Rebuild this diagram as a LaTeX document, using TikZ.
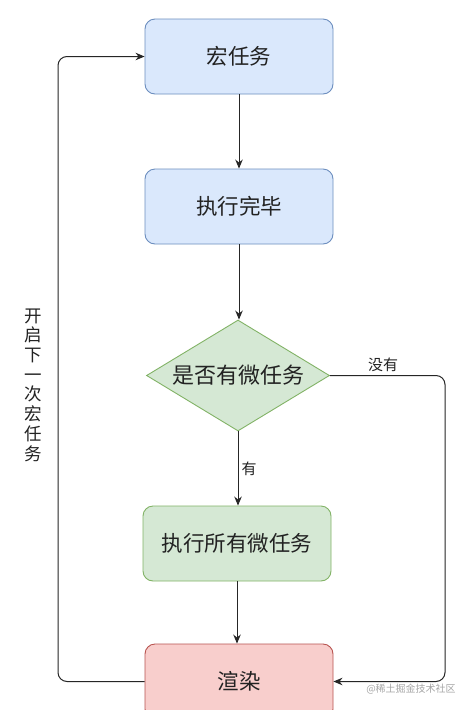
\documentclass[tikz,border=0pt]{standalone}
\usepackage{fontspec}
\newfontfamily\cjk{Noto Sans CJK SC}
\usetikzlibrary{shapes.geometric,arrows.meta,calc}
\definecolor{bluefill}{HTML}{DAE8FC}
\definecolor{bluedraw}{HTML}{6C8EBF}
\definecolor{greenfill}{HTML}{D5E8D4}
\definecolor{greendraw}{HTML}{82B366}
\definecolor{redfill}{HTML}{F8CECC}
\definecolor{reddraw}{HTML}{B85450}
\definecolor{txt}{HTML}{222222}
\tikzset{
  box/.style={rectangle, rounded corners=10pt, minimum width=188pt, minimum height=75pt, line width=0.9pt, inner sep=0pt, font=\cjk\fontsize{21.5}{24}\selectfont, text=txt},
  bluebox/.style={box, fill=bluefill, draw=bluedraw},
  greenbox/.style={box, fill=greenfill, draw=greendraw},
  redbox/.style={box, fill=redfill, draw=reddraw},
  decision/.style={diamond, aspect=1.65, fill=greenfill, draw=greendraw, line width=0.9pt, inner sep=0pt, minimum width=183pt, minimum height=111pt, font=\cjk\fontsize{22}{24}\selectfont, text=txt},
  conn/.style={line width=1pt, draw=black!85, -{Stealth[length=9pt,width=7.5pt]}},
  lbl/.style={font=\cjk\fontsize{15}{17}\selectfont, text=txt, inner sep=0pt},
}
\begin{document}
\begin{tikzpicture}[x=1pt,y=-1pt]
\clip (0,0) rectangle (471,710);
\fill[white] (0,0) rectangle (471,710);
\node[bluebox] (m) at (239,56.5) {宏任务};
\node[bluebox] (e) at (239,206.5) {执行完毕};
\node[decision] (d) at (238,375.5) {是否有微任务};
\node[greenbox] (a) at (237,543.5) {执行所有微任务};
\node[redbox] (r) at (239,681.5) {渲染};
\coordinate (lx) at (58,0);
\coordinate (rx) at (445,0);
\draw[conn] (m) -- (e);
\draw[conn] (e.south) -- (e.south |- d.north);
\draw[conn] (d.south) -- (d.south |- a.north) node[lbl, pos=0.5, right=3pt] {有};
\draw[conn] (a.south) -- (a.south |- r.north);
\draw[conn, rounded corners=9pt] (r.west) -- (r.west -| lx) -- (m.west -| lx) -- (m.west);
\draw[conn, rounded corners=9pt] (d.east) -- (d.east -| rx) -- (r.east -| rx) -- (r.east);
\node[lbl] (no) at (383,365) {没有};
\node[font=\cjk\fontsize{17.5}{19.7}\selectfont, text=txt, align=center, inner sep=0pt] (loop) at (33,385) {开\\启\\下\\一\\次\\宏\\任\\务};
\node[font=\cjk\fontsize{10}{12}\selectfont, text=black!35, inner sep=0pt] (wm) at (411,689) {@稀土掘金技术社区};
\end{tikzpicture}
\end{document}
